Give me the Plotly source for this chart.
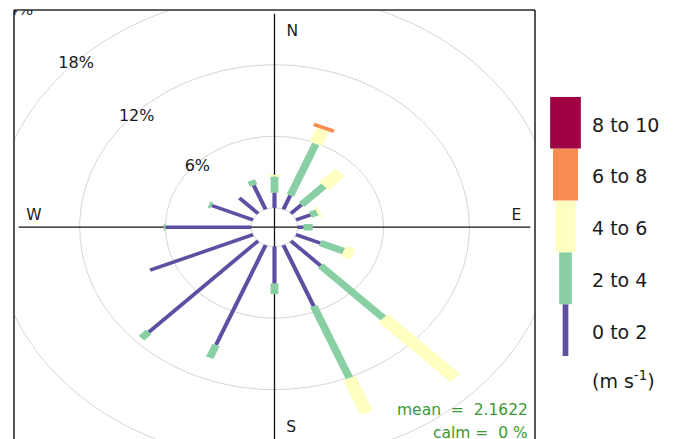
import numpy as np
import plotly.graph_objects as go

# Wind directions (degrees clockwise from north) and frequency (%) per speed bin
directions = [0.0, 22.5, 45.0, 67.5, 90.0, 112.5, 135.0, 157.5,
              180.0, 202.5, 225.0, 247.5, 270.0, 292.5, 315.0, 337.5]
speed_labels = ["0 to 2", "2 to 4", "4 to 6", "6 to 8", "8 to 10"]
freq_0_2 = [1.27, 1.26, 1.04, 1.10, 0.40, 1.84, 2.94, 5.55,
            3.10, 9.06, 10.82, 7.79, 6.00, 3.13, 1.84, 2.17]
freq_2_4 = [1.35, 4.68, 2.23, 0.50, 0.65, 1.77, 6.21, 6.52,
            0.87, 1.16, 0.71, 0.00, 0.12, 0.20, 0.00, 0.45]
freq_4_6 = [0.15, 1.30, 1.59, 0.20, 0.00, 0.70, 7.12, 3.13,
            0.00, 0.00, 0.00, 0.00, 0.00, 0.00, 0.00, 0.00]
freq_6_8 = [0.00, 0.31, 0.00, 0.00, 0.00, 0.00, 0.00, 0.00,
            0.00, 0.00, 0.00, 0.00, 0.00, 0.00, 0.00, 0.00]
freq_8_10 = [0.0] * 16
grid_levels = [6, 12, 18, 24]
mean_speed = 2.1622
calm_pct = 0

bin_colours = ["#5E4FA2", "#88CFA4", "#FFFFBF", "#F88D52", "#9E0142"]
key_widths = [5.7, 12.7, 20.0, 25.0, 30.7]   # legend key widths in px
label_drop = [0.33, 0.38, 0.22, 0.0]         # small downward nudge of grid labels
FONT = "DejaVu Sans"
TXT = "#1a1a1a"

W, H = 676, 439
PX_L, PX_R, PX_T = 14, 535, 10

freqs = np.array([freq_0_2, freq_2_4, freq_4_6, freq_6_8, freq_8_10])
cum = np.cumsum(freqs, axis=0)
max_freq = cum[-1].max()
off = 0.10 * max_freq            # hole in the middle
M = max_freq + off               # extent of the compass axes
R = 1.018 * M                    # half range of the panel
ang_step = 22.5
half_w = (np.linspace(0.002 ** 0.25, 0.016 ** 0.25, len(speed_labels)) ** 4
          * max_freq * ang_step / 5)

fig = go.Figure()

# grid circles (including the ring around the hole)
t = np.linspace(0, 2 * np.pi, 361)
for g in [0] + grid_levels:
    r = g + off
    fig.add_trace(go.Scatter(x=r * np.sin(t), y=r * np.cos(t), mode="lines",
                             line=dict(color="#d6d6d6", width=1),
                             hoverinfo="skip", showlegend=False))

# compass axes
fig.add_trace(go.Scatter(x=[-M, M, None, 0, 0], y=[0, 0, None, -M, M],
                         mode="lines", line=dict(color="#111111", width=1.3),
                         hoverinfo="skip", showlegend=False))

# paddles
for j, col in enumerate(bin_colours):
    xs, ys = [], []
    for i, wd in enumerate(directions):
        lo = (cum[j - 1, i] if j > 0 else 0.0) + off
        hi = cum[j, i] + off
        if hi - lo <= 1e-9:
            continue
        th = np.radians(wd)
        w = half_w[j]
        for L, s in [(lo, -w), (lo, w), (hi, w), (hi, -w)]:
            xs.append(L * np.sin(th) + s * np.cos(th))
            ys.append(L * np.cos(th) - s * np.sin(th))
        xs.append(None)
        ys.append(None)
    if xs:
        fig.add_trace(go.Scatter(x=xs, y=ys, mode="lines", fill="toself",
                                 fillcolor=col, line=dict(width=0, color=col),
                                 hoverinfo="skip", showlegend=False))

# grid labels along the north-west diagonal
lab_r = np.array(grid_levels) + off
fig.add_trace(go.Scatter(x=-lab_r * np.sin(np.pi / 4),
                         y=lab_r * np.cos(np.pi / 4) - np.array(label_drop),
                         mode="text", text=[f"{g}%" for g in grid_levels],
                         textposition="middle center", cliponaxis=True,
                         textfont=dict(family=FONT, size=16, color=TXT),
                         hoverinfo="skip", showlegend=False))

# compass labels
fig.add_trace(go.Scatter(x=[0.07 * M, 0.065 * M, -0.94 * M, 0.945 * M],
                         y=[0.915 * M, -0.94 * M, 0.05 * M, 0.05 * M],
                         mode="text", text=["N", "S", "W", "E"],
                         textposition="middle center", cliponaxis=True,
                         textfont=dict(family=FONT, size=15.5, color=TXT),
                         hoverinfo="skip", showlegend=False))

shapes = []
# panel border: left, top and right edges
for x0, y0, x1, y1 in [(0, 0, 0, 1), (0, 1, 1, 1), (1, 0, 1, 1)]:
    shapes.append(dict(type="line", xref="x domain", yref="y domain",
                       x0=x0, y0=y0, x1=x1, y1=y1,
                       line=dict(color="#2b2b2b", width=1.6)))

# legend keys
for j, col in enumerate(bin_colours):
    hw = key_widths[j] / 2
    shapes.append(dict(type="rect", xref="x2", yref="y2",
                       x0=-hw, x1=hw, y0=j, y1=j + 1,
                       fillcolor=col, line=dict(width=0), layer="above"))

annotations = []
for j, lab in enumerate(speed_labels):
    annotations.append(dict(text=lab, xref="paper", yref="y2", x=590 / W, y=j + 0.5,
                            xanchor="left", yanchor="middle", yshift=-2, showarrow=False,
                            font=dict(family=FONT, size=19, color=TXT)))
annotations.append(dict(text="(m s<sup>-1</sup>)", xref="paper", yref="paper",
                        x=590 / W, y=(H - 380) / H, xanchor="left", yanchor="middle",
                        showarrow=False, font=dict(family=FONT, size=19, color=TXT)))

stat_font = dict(family=FONT, size=15.5, color="#3a9a36")
annotations.append(dict(text=f"mean\u00a0 =\u00a0 {mean_speed}", xref="paper", yref="paper",
                        x=530 / W, y=(H - 410) / H, xanchor="right", yanchor="middle",
                        showarrow=False, font=stat_font))
annotations.append(dict(text=f"calm =\u00a0 {calm_pct} %", xref="paper", yref="paper",
                        x=530 / W, y=(H - 432.5) / H, xanchor="right", yanchor="middle",
                        showarrow=False, font=stat_font))

fig.update_layout(
    width=W, height=H,
    margin=dict(l=0, r=0, t=0, b=0),
    paper_bgcolor="white", plot_bgcolor="white",
    showlegend=False,
    xaxis=dict(domain=[PX_L / W, PX_R / W], range=[-R, R], visible=False, fixedrange=True),
    yaxis=dict(domain=[0, (H - PX_T) / H], range=[-0.975 * R, R], visible=False, fixedrange=True),
    xaxis2=dict(domain=[545.5 / W, 585.5 / W], range=[-20, 20], visible=False,
                anchor="y2", fixedrange=True),
    yaxis2=dict(domain=[(H - 356) / H, (H - 96.7) / H], range=[0, 5], visible=False,
                anchor="x2", fixedrange=True),
    shapes=shapes,
    annotations=annotations,
)
# an empty trace keeps the legend axes alive
fig.add_trace(go.Scatter(x=[None], y=[None], xaxis="x2", yaxis="y2",
                         showlegend=False, hoverinfo="skip"))

fig.write_html("out.html")
